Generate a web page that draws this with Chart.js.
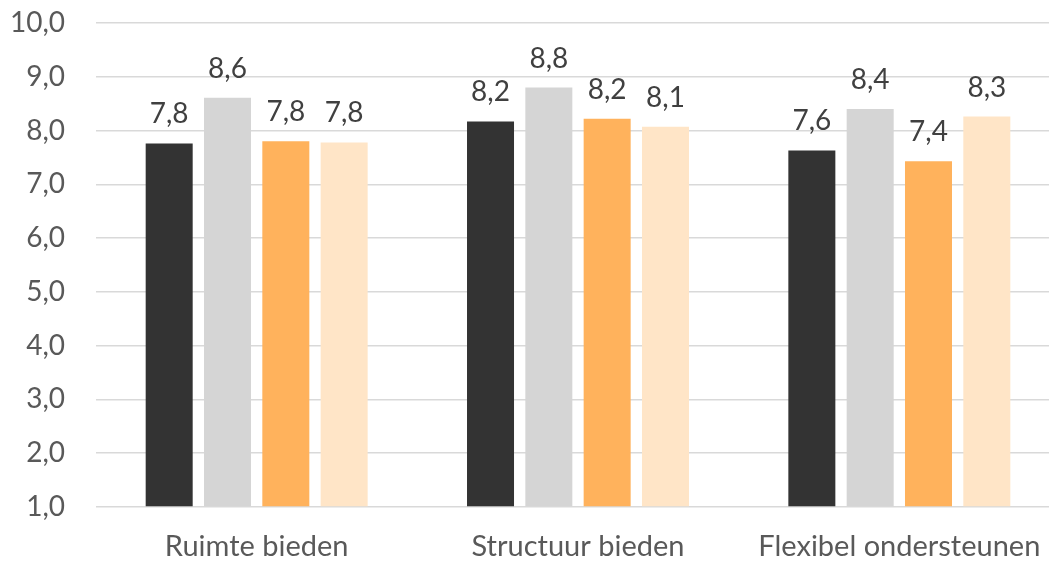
<!DOCTYPE html>
<html lang="nl">
<head>
<meta charset="UTF-8">
<script src="https://cdn.jsdelivr.net/npm/chart.js@4.4.1/dist/chart.umd.min.js"></script>
<title>Gemiddelde scores</title>
<style>
  html, body { margin: 0; padding: 0; background: #fff; overflow: hidden; }
  #wrap { position: absolute; left: 0; top: 0; width: 1060px; height: 561px; }
</style>
</head>
<body>
<div id="wrap"><canvas id="myChart"></canvas></div>
<script>
  var categories = ['Ruimte bieden', 'Structuur bieden', 'Flexibel ondersteunen'];
  var reeks1 = [7.76, 8.17, 7.63];
  var reeks2 = [8.61, 8.80, 8.40];
  var reeks3 = [7.80, 8.22, 7.43];
  var reeks4 = [7.78, 8.07, 8.26];
  var yTicks = [1, 2, 3, 4, 5, 6, 7, 8, 9, 10];

  function komma(v) {
    return v.toFixed(1).replace('.', ',');
  }

  // labels boven de staven (geen datalabels plugin beschikbaar)
  var waardeLabels = {
    id: 'waardeLabels',
    afterDatasetsDraw: function (chart) {
      var ctx = chart.ctx;
      ctx.save();
      ctx.font = '28px Lato';
      ctx.fillStyle = '#404040';
      ctx.textAlign = 'center';
      ctx.textBaseline = 'alphabetic';
      chart.data.datasets.forEach(function (ds, i) {
        chart.getDatasetMeta(i).data.forEach(function (bar, j) {
          ctx.fillText(komma(ds.data[j]), bar.x, bar.y - 20);
        });
      });
      ctx.restore();
    }
  };

  var ctx = document.getElementById('myChart').getContext('2d');
  var myChart = new Chart(ctx, {
    type: 'bar',
    data: {
      labels: categories,
      datasets: [
        { label: 'Reeks 1', data: reeks1, backgroundColor: '#333333' },
        { label: 'Reeks 2', data: reeks2, backgroundColor: '#d5d5d5' },
        { label: 'Reeks 3', data: reeks3, backgroundColor: '#ffb25c' },
        { label: 'Reeks 4', data: reeks4, backgroundColor: '#ffe5c7' }
      ]
    },
    plugins: [waardeLabels],
    options: {
      responsive: true,
      maintainAspectRatio: false,
      animation: false,
      layout: { padding: { left: 11, top: 23, right: 0, bottom: 0 } },
      datasets: {
        bar: { categoryPercentage: 0.726, barPercentage: 0.806, base: 1 }
      },
      plugins: {
        legend: { display: false },
        tooltip: { enabled: false }
      },
      scales: {
        x: {
          grid: { display: false },
          border: { display: false },
          ticks: { color: '#595959', font: { family: 'Lato', size: 29 }, padding: 14 },
          afterFit: function (axis) { axis.height = 54; }
        },
        y: {
          min: 1,
          max: 10,
          afterBuildTicks: function (axis) {
            axis.ticks = yTicks.map(function (v) { return { value: v }; });
          },
          grid: { color: '#d9d9d9', lineWidth: 1.5, drawTicks: false },
          border: { display: false },
          ticks: {
            color: '#595959',
            font: { family: 'Lato', size: 28 },
            padding: 31,
            callback: function (v) { return komma(v); }
          },
          afterFit: function (axis) {
            axis.width = 85;
            axis.paddingTop = 0;
            axis.paddingBottom = 0;
          }
        }
      }
    }
  });
</script>
</body>
</html>
